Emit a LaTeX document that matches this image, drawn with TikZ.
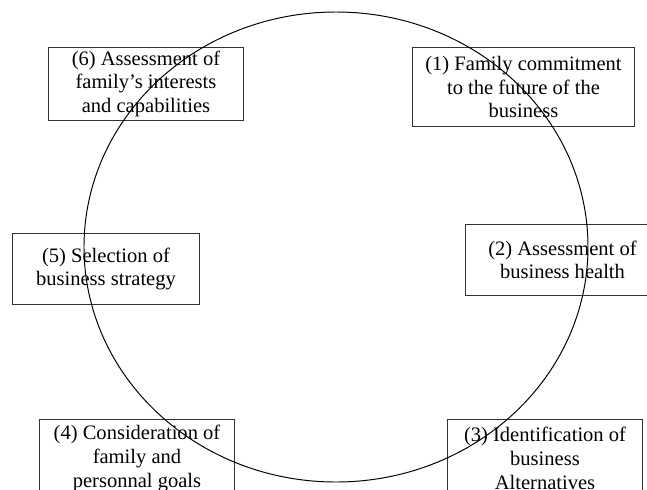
\documentclass[tikz,border=0pt]{standalone}
\usepackage{fontspec}
\setmainfont{Liberation Serif}
\usepackage{tikz}
\usetikzlibrary{positioning}
\newdimen\px
\px=0.6135pt

\begin{document}
\begin{tikzpicture}[
    x=\px,y=-\px,
    every node/.style={font=\fontsize{12.6}{14.5}\selectfont},
    stagebox/.style={draw=black!80,line width=0.6pt,align=center,anchor=north west,inner sep=2pt,minimum width=195\px,minimum height=70\px},
    cyc/.style={line width=0.6pt}
]
\clip (0,0) rectangle (647,490);
% Boxes round the cycle
\node[stagebox] (assessfamily) at (48,47) {(6) Assessment of\\family’s interests\\and capabilities};
\node[stagebox,minimum width=222\px,minimum height=79\px] (commitment) at (412,47) {(1) Family commitment\\to the future of the\\business};
\node[stagebox,minimum width=187\px,minimum height=71\px] (strategy) at (12,233) {(5) Selection of\\business strategy};
\node[stagebox,minimum width=194\px,minimum height=71\px] (health) at (465,224) {(2) Assessment of\\business health};
\node[stagebox,minimum height=78\px] (goals) at (39,419) {(4) Consideration of\\family and\\personnal goals};
\node[stagebox,minimum height=78\px] (alternatives) at (447,419) {(3) Identification of\\business\\Alternatives};

% The cycle itself
\draw[cyc] (336,247) ellipse [x radius=252,y radius=235];
\end{tikzpicture}
\end{document}
